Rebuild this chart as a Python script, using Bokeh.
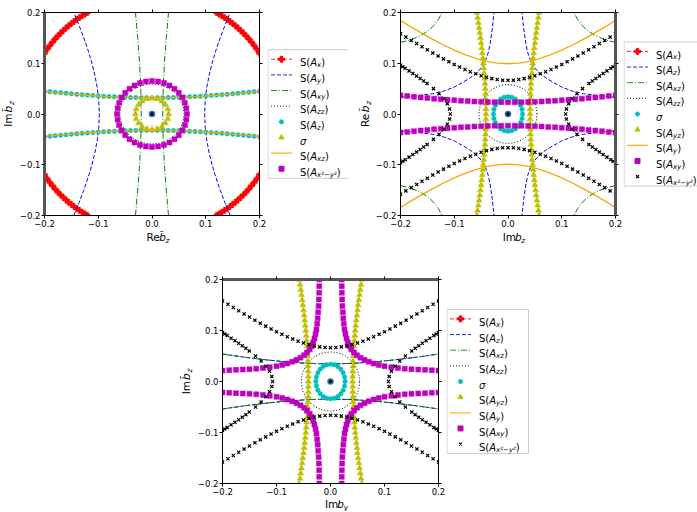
from math import pi
from bokeh.plotting import figure
from bokeh.models import Range1d, FixedTicker, LinearAxis, Spacer, CustomLabelingPolicy
from bokeh.layouts import row, column
from bokeh.embed import file_html
from bokeh.resources import INLINE
from bokeh.core.properties import value

FONT = "DejaVu Sans"
TICKS = [-0.2, -0.1, 0.0, 0.1, 0.2]
TICK_LABELS = ["−0.2", "−0.1", "0.0", "0.1", "0.2"]

# ---------------- shared grids ----------------
grid41 = [-0.2, -0.19, -0.18, -0.17, -0.16, -0.15, -0.14, -0.13, -0.12, -0.11, -0.1, -0.09, -0.08, -0.07,
          -0.06, -0.05, -0.04, -0.03, -0.02, -0.01, 0.0, 0.01, 0.02, 0.03, 0.04, 0.05, 0.06, 0.07, 0.08,
          0.09, 0.1, 0.11, 0.12, 0.13, 0.14, 0.15, 0.16, 0.17, 0.18, 0.19, 0.2]
grid33 = [-0.2, -0.1875, -0.175, -0.1625, -0.15, -0.1375, -0.125, -0.1125, -0.1, -0.0875, -0.075, -0.0625,
          -0.05, -0.0375, -0.025, -0.0125, 0.0, 0.0125, 0.025, 0.0375, 0.05, 0.0625, 0.075, 0.0875, 0.1, 0.1125,
          0.125, 0.1375, 0.15, 0.1625, 0.175, 0.1875, 0.2]
grid21 = [-0.2, -0.18, -0.16, -0.14, -0.12, -0.1, -0.08, -0.06, -0.04, -0.02, 0.0, 0.02, 0.04, 0.06, 0.08,
          0.1, 0.12, 0.14, 0.16, 0.18, 0.2]
center_x = [0.0]
center_y = [0.0]

# ---------------- panel 1 (Re b_z, Im b_z) ----------------
p1_ax_x_left = [-0.2, -0.195, -0.19, -0.185, -0.18, -0.175, -0.17, -0.165, -0.16, -0.155, -0.15, -0.145, -0.14,
                -0.135, -0.13, -0.125, -0.12]
p1_ax_x_right = [0.2, 0.195, 0.19, 0.185, 0.18, 0.175, 0.17, 0.165, 0.16, 0.155, 0.15, 0.145, 0.14, 0.135, 0.13,
                 0.125, 0.12]
p1_ax_y_top = [0.1196, 0.1276, 0.1349, 0.1417, 0.148, 0.1539, 0.1594, 0.1645, 0.1694, 0.174, 0.1783, 0.1824,
               0.1863, 0.1899, 0.1934, 0.1967, 0.1997]
p1_ax_y_bot = [-0.1196, -0.1276, -0.1349, -0.1417, -0.148, -0.1539, -0.1594, -0.1645, -0.1694, -0.174, -0.1783,
               -0.1824, -0.1863, -0.1899, -0.1934, -0.1967, -0.1997]

p1_ay_y = [-0.2, -0.175, -0.15, -0.125, -0.1, -0.075, -0.05, -0.025, 0.0, 0.025, 0.05, 0.075, 0.1, 0.125, 0.15,
           0.175, 0.2]
p1_ay_x_left = [-0.1455, -0.1358, -0.1269, -0.1188, -0.1118, -0.106, -0.1016, -0.0989, -0.098, -0.0989, -0.1016,
                -0.106, -0.1118, -0.1188, -0.1269, -0.1358, -0.1455]
p1_ay_x_right = [0.1455, 0.1358, 0.1269, 0.1188, 0.1118, 0.106, 0.1016, 0.0989, 0.098, 0.0989, 0.1016, 0.106,
                 0.1118, 0.1188, 0.1269, 0.1358, 0.1455]

p1_axy_y = [-0.2, -0.15, -0.1, -0.05, 0.0, 0.05, 0.1, 0.15, 0.2]
p1_axy_x_left = [-0.0307, -0.0265, -0.0231, -0.0208, -0.02, -0.0208, -0.0231, -0.0265, -0.0307]
p1_axy_x_right = [0.0307, 0.0265, 0.0231, 0.0208, 0.02, 0.0208, 0.0231, 0.0265, 0.0307]

p1_azz_x = [0.06, 0.0591, 0.0564, 0.052, 0.046, 0.0386, 0.03, 0.0205, 0.0104, 0.0, -0.0104, -0.0205, -0.03,
            -0.0386, -0.046, -0.052, -0.0564, -0.0591, -0.06, -0.0591, -0.0564, -0.052, -0.046, -0.0386, -0.03,
            -0.0205, -0.0104, 0.0, 0.0104, 0.0205, 0.03, 0.0386, 0.046, 0.052, 0.0564, 0.0591, 0.06]
p1_azz_y = [0.0, 0.0102, 0.0202, 0.0295, 0.0379, 0.0452, 0.0511, 0.0554, 0.0581, 0.059, 0.0581, 0.0554, 0.0511,
            0.0452, 0.0379, 0.0295, 0.0202, 0.0102, 0.0, -0.0102, -0.0202, -0.0295, -0.0379, -0.0452, -0.0511,
            -0.0554, -0.0581, -0.059, -0.0581, -0.0554, -0.0511, -0.0452, -0.0379, -0.0295, -0.0202, -0.0102, 0.0]

p1_az_y_top = [0.045, 0.0439, 0.0428, 0.0418, 0.0408, 0.0398, 0.0389, 0.038, 0.0372, 0.0364, 0.0357, 0.035,
               0.0344, 0.0339, 0.0334, 0.033, 0.0326, 0.0324, 0.0322, 0.032, 0.032, 0.032, 0.0322, 0.0324, 0.0326,
               0.033, 0.0334, 0.0339, 0.0344, 0.035, 0.0357, 0.0364, 0.0372, 0.038, 0.0389, 0.0398, 0.0408,
               0.0418, 0.0428, 0.0439, 0.045]
p1_az_y_bot = [-0.045, -0.0439, -0.0428, -0.0418, -0.0408, -0.0398, -0.0389, -0.038, -0.0372, -0.0364, -0.0357,
               -0.035, -0.0344, -0.0339, -0.0334, -0.033, -0.0326, -0.0324, -0.0322, -0.032, -0.032, -0.032,
               -0.0322, -0.0324, -0.0326, -0.033, -0.0334, -0.0339, -0.0344, -0.035, -0.0357, -0.0364, -0.0372,
               -0.038, -0.0389, -0.0398, -0.0408, -0.0418, -0.0428, -0.0439, -0.045]

p1_sig_x = [0.031, 0.0295, 0.0251, 0.0182, 0.0096, 0.0, -0.0096, -0.0182, -0.0251, -0.0295, -0.031, -0.0295,
            -0.0251, -0.0182, -0.0096, 0.0, 0.0096, 0.0182, 0.0251, 0.0295]
p1_sig_y = [0.0, 0.0096, 0.0182, 0.0251, 0.0295, 0.031, 0.0295, 0.0251, 0.0182, 0.0096, 0.0, -0.0096, -0.0182,
            -0.0251, -0.0295, -0.031, -0.0295, -0.0251, -0.0182, -0.0096]

p1_axz_y_top = [0.0443, 0.0423, 0.0403, 0.0385, 0.0369, 0.0355, 0.0343, 0.0333, 0.0326, 0.0322, 0.032, 0.0322,
                0.0326, 0.0333, 0.0343, 0.0355, 0.0369, 0.0385, 0.0403, 0.0423, 0.0443]
p1_axz_y_bot = [-0.0443, -0.0423, -0.0403, -0.0385, -0.0369, -0.0355, -0.0343, -0.0333, -0.0326, -0.0322, -0.032,
                -0.0322, -0.0326, -0.0333, -0.0343, -0.0355, -0.0369, -0.0385, -0.0403, -0.0423, -0.0443]

p1_ax2y2_x = [0.065, 0.064, 0.0611, 0.0563, 0.0498, 0.0418, 0.0325, 0.0222, 0.0113, 0.0, -0.0113, -0.0222,
              -0.0325, -0.0418, -0.0498, -0.0563, -0.0611, -0.064, -0.065, -0.064, -0.0611, -0.0563, -0.0498,
              -0.0418, -0.0325, -0.0222, -0.0113, 0.0, 0.0113, 0.0222, 0.0325, 0.0418, 0.0498, 0.0563, 0.0611,
              0.064]
p1_ax2y2_y = [0.0, 0.0113, 0.0222, 0.0325, 0.0418, 0.0498, 0.0563, 0.0611, 0.064, 0.065, 0.064, 0.0611, 0.0563,
              0.0498, 0.0418, 0.0325, 0.0222, 0.0113, 0.0, -0.0113, -0.0222, -0.0325, -0.0418, -0.0498, -0.0563,
              -0.0611, -0.064, -0.065, -0.064, -0.0611, -0.0563, -0.0498, -0.0418, -0.0325, -0.0222, -0.0113]

# ---------------- panel 2 (Im b_z, Re b_z) and panel 3 (Im b_y, Im b_z) ----------------
p2_az_x_left = [-0.2, -0.17, -0.14, -0.12, -0.1, -0.085, -0.072, -0.062, -0.054, -0.047, -0.042, -0.037, -0.033,
                -0.029, -0.026]
p2_az_x_right = [0.2, 0.17, 0.14, 0.12, 0.1, 0.085, 0.072, 0.062, 0.054, 0.047, 0.042, 0.037, 0.033, 0.029, 0.026]
p2_az_y_top = [0.033, 0.036, 0.04, 0.045, 0.053, 0.062, 0.07, 0.078, 0.086, 0.095, 0.105, 0.12, 0.14, 0.17, 0.2]
p2_az_y_bot = [-0.033, -0.036, -0.04, -0.045, -0.053, -0.062, -0.07, -0.078, -0.086, -0.095, -0.105, -0.12, -0.14,
               -0.17, -0.2]

p2_axz_x_left = [-0.2, -0.19, -0.18, -0.17, -0.16, -0.15, -0.14, -0.13, -0.1226]
p2_axz_x_right = [0.2, 0.19, 0.18, 0.17, 0.16, 0.15, 0.14, 0.13, 0.1226]
p2_axz_y_top = [0.1415, 0.1435, 0.1465, 0.151, 0.156, 0.163, 0.172, 0.1855, 0.2]
p2_axz_y_bot = [-0.1415, -0.1435, -0.1465, -0.151, -0.156, -0.163, -0.172, -0.1855, -0.2]

zz_ell_x = [0.054, 0.0532, 0.0507, 0.0468, 0.0414, 0.0347, 0.027, 0.0185, 0.0094, 0.0, -0.0094, -0.0185, -0.027,
            -0.0347, -0.0414, -0.0468, -0.0507, -0.0532, -0.054, -0.0532, -0.0507, -0.0468, -0.0414, -0.0347,
            -0.027, -0.0185, -0.0094, 0.0, 0.0094, 0.0185, 0.027, 0.0347, 0.0414, 0.0468, 0.0507, 0.0532, 0.054]
zz_ell_y = [0.0, 0.0101, 0.0198, 0.029, 0.0373, 0.0444, 0.0502, 0.0545, 0.0571, 0.058, 0.0571, 0.0545, 0.0502,
            0.0444, 0.0373, 0.029, 0.0198, 0.0101, 0.0, -0.0101, -0.0198, -0.029, -0.0373, -0.0444, -0.0502,
            -0.0545, -0.0571, -0.058, -0.0571, -0.0545, -0.0502, -0.0444, -0.0373, -0.029, -0.0198, -0.0101, 0.0]

sig_ell_x = [0.027, 0.0261, 0.0234, 0.0191, 0.0135, 0.007, 0.0, -0.007, -0.0135, -0.0191, -0.0234, -0.0261,
             -0.027, -0.0261, -0.0234, -0.0191, -0.0135, -0.007, 0.0, 0.007, 0.0135, 0.0191, 0.0234, 0.0261]
sig_ell_y = [0.0, 0.0088, 0.017, 0.024, 0.0294, 0.0328, 0.034, 0.0328, 0.0294, 0.024, 0.017, 0.0088, 0.0,
             -0.0088, -0.017, -0.024, -0.0294, -0.0328, -0.034, -0.0328, -0.0294, -0.024, -0.017, -0.0088]

ayz_x_right = [0.058, 0.0565, 0.0551, 0.0538, 0.0525, 0.0512, 0.05, 0.0489, 0.0478, 0.0468, 0.0458, 0.045,
               0.0442, 0.0434, 0.0428, 0.0423, 0.0418, 0.0415, 0.0412, 0.041, 0.041, 0.041, 0.0412, 0.0415, 0.0418,
               0.0423, 0.0428, 0.0434, 0.0442, 0.045, 0.0458, 0.0468, 0.0478, 0.0489, 0.05, 0.0512, 0.0525, 0.0538,
               0.0551, 0.0565, 0.058]
ayz_x_left = [-0.058, -0.0565, -0.0551, -0.0538, -0.0525, -0.0512, -0.05, -0.0489, -0.0478, -0.0468, -0.0458,
              -0.045, -0.0442, -0.0434, -0.0428, -0.0423, -0.0418, -0.0415, -0.0412, -0.041, -0.041, -0.041,
              -0.0412, -0.0415, -0.0418, -0.0423, -0.0428, -0.0434, -0.0442, -0.045, -0.0458, -0.0468, -0.0478,
              -0.0489, -0.05, -0.0512, -0.0525, -0.0538, -0.0551, -0.0565, -0.058]

p2_ay_y_top = [0.1841, 0.1712, 0.1588, 0.147, 0.1359, 0.1258, 0.1169, 0.1094, 0.1037, 0.1002, 0.099, 0.1002,
               0.1037, 0.1094, 0.1169, 0.1258, 0.1359, 0.147, 0.1588, 0.1712, 0.1841]
p2_ay_y_bot = [-0.1841, -0.1712, -0.1588, -0.147, -0.1359, -0.1258, -0.1169, -0.1094, -0.1037, -0.1002, -0.099,
               -0.1002, -0.1037, -0.1094, -0.1169, -0.1258, -0.1359, -0.147, -0.1588, -0.1712, -0.1841]

p2_axy_y_top = [0.0366, 0.0353, 0.0339, 0.0326, 0.0314, 0.0302, 0.0291, 0.028, 0.0271, 0.0262, 0.0254, 0.0247,
                0.0241, 0.0236, 0.0233, 0.0231, 0.023, 0.0231, 0.0233, 0.0236, 0.0241, 0.0247, 0.0254, 0.0262,
                0.0271, 0.028, 0.0291, 0.0302, 0.0314, 0.0326, 0.0339, 0.0353, 0.0366]
p2_axy_y_bot = [-0.0366, -0.0353, -0.0339, -0.0326, -0.0314, -0.0302, -0.0291, -0.028, -0.0271, -0.0262, -0.0254,
                -0.0247, -0.0241, -0.0236, -0.0233, -0.0231, -0.023, -0.0231, -0.0233, -0.0236, -0.0241, -0.0247,
                -0.0254, -0.0262, -0.0271, -0.028, -0.0291, -0.0302, -0.0314, -0.0326, -0.0339, -0.0353, -0.0366]

x2y2_u_top = [0.158, 0.1515, 0.1451, 0.1388, 0.1325, 0.1264, 0.1203, 0.1144, 0.1086, 0.1031, 0.0977, 0.0925,
              0.0877, 0.0832, 0.0791, 0.0754, 0.0723, 0.0697, 0.0679, 0.0667, 0.0663, 0.0667, 0.0679, 0.0697,
              0.0723, 0.0754, 0.0791, 0.0832, 0.0877, 0.0925, 0.0977, 0.1031, 0.1086, 0.1144, 0.1203, 0.1264,
              0.1325, 0.1388, 0.1451, 0.1515, 0.158]
x2y2_u_bot = [-0.158, -0.1515, -0.1451, -0.1388, -0.1325, -0.1264, -0.1203, -0.1144, -0.1086, -0.1031, -0.0977,
              -0.0925, -0.0877, -0.0832, -0.0791, -0.0754, -0.0723, -0.0697, -0.0679, -0.0667, -0.0663, -0.0667,
              -0.0679, -0.0697, -0.0723, -0.0754, -0.0791, -0.0832, -0.0877, -0.0925, -0.0977, -0.1031, -0.1086,
              -0.1144, -0.1203, -0.1264, -0.1325, -0.1388, -0.1451, -0.1515, -0.158]
x2y2_side_y = [-0.096, -0.093, -0.09, -0.085, -0.08, -0.075, -0.07, -0.065, -0.06, -0.05, -0.04, -0.03, -0.02,
               -0.01, 0.0, 0.01, 0.02, 0.03, 0.04, 0.05, 0.06, 0.065, 0.07, 0.075, 0.08, 0.085, 0.09, 0.093, 0.096]
x2y2_side_x_left = [-0.2, -0.1957, -0.1913, -0.1841, -0.177, -0.1701, -0.1634, -0.1568, -0.1505, -0.1387, -0.1283,
                    -0.1195, -0.1129, -0.1087, -0.1072, -0.1087, -0.1129, -0.1195, -0.1283, -0.1387, -0.1505,
                    -0.1568, -0.1634, -0.1701, -0.177, -0.1841, -0.1913, -0.1957, -0.2]
x2y2_side_x_right = [0.2, 0.1957, 0.1913, 0.1841, 0.177, 0.1701, 0.1634, 0.1568, 0.1505, 0.1387, 0.1283, 0.1195,
                     0.1129, 0.1087, 0.1072, 0.1087, 0.1129, 0.1195, 0.1283, 0.1387, 0.1505, 0.1568, 0.1634,
                     0.1701, 0.177, 0.1841, 0.1913, 0.1957, 0.2]

p3_azxz_y_top = [0.0539, 0.0508, 0.0478, 0.0451, 0.0426, 0.0403, 0.0384, 0.0368, 0.0356, 0.0349, 0.0346, 0.0349,
                 0.0356, 0.0368, 0.0384, 0.0403, 0.0426, 0.0451, 0.0478, 0.0508, 0.0539]
p3_azxz_y_bot = [-0.0539, -0.0508, -0.0478, -0.0451, -0.0426, -0.0403, -0.0384, -0.0368, -0.0356, -0.0349,
                 -0.0346, -0.0349, -0.0356, -0.0368, -0.0384, -0.0403, -0.0426, -0.0451, -0.0478, -0.0508, -0.0539]

p3_axy_x_left = [-0.2, -0.1875, -0.175, -0.1625, -0.15, -0.1375, -0.125, -0.1125, -0.1, -0.0895, -0.08, -0.071,
                 -0.063, -0.0555, -0.049, -0.0435, -0.0385, -0.0345, -0.032, -0.0297, -0.0277, -0.026, -0.0247,
                 -0.0237, -0.0228, -0.022, -0.0215, -0.021, -0.0208, -0.0207]
p3_axy_x_right = [0.2, 0.1875, 0.175, 0.1625, 0.15, 0.1375, 0.125, 0.1125, 0.1, 0.0895, 0.08, 0.071, 0.063,
                  0.0555, 0.049, 0.0435, 0.0385, 0.0345, 0.032, 0.0297, 0.0277, 0.026, 0.0247, 0.0237, 0.0228,
                  0.022, 0.0215, 0.021, 0.0208, 0.0207]
p3_axy_y_top = [0.0215, 0.0221, 0.0228, 0.0234, 0.024, 0.0252, 0.0265, 0.0281, 0.03, 0.0325, 0.0353, 0.0387,
                0.0425, 0.0468, 0.0515, 0.0568, 0.063, 0.0695, 0.077, 0.0845, 0.093, 0.102, 0.113, 0.124, 0.136,
                0.148, 0.161, 0.174, 0.187, 0.2]
p3_axy_y_bot = [-0.0215, -0.0221, -0.0228, -0.0234, -0.024, -0.0252, -0.0265, -0.0281, -0.03, -0.0325, -0.0353,
                -0.0387, -0.0425, -0.0468, -0.0515, -0.0568, -0.063, -0.0695, -0.077, -0.0845, -0.093, -0.102,
                -0.113, -0.124, -0.136, -0.148, -0.161, -0.174, -0.187, -0.2]

# ---------------- texts ----------------
legend1_labels = ["S(A_x)", "S(A_y)", "S(A_xy)", "S(A_zz)", "S(A_z)", "σ", "S(A_xz)", "S(A_x²−y²)"]
legend1_keys = ["red", "blue", "green", "dotted", "cyan", "yellow", "orange", "magenta"]
legend2_labels = ["S(A_x)", "S(A_z)", "S(A_xz)", "S(A_zz)", "σ", "S(A_yz)", "S(A_y)", "S(A_xy)", "S(A_x²−y²)"]
legend2_keys = ["red", "blue", "green", "dotted", "cyan", "yellow", "orange", "magenta", "blackx"]
legend3_labels = legend2_labels
legend3_keys = legend2_keys

# axis titles: (prefix, variable, subscript)
xlabel1 = ("Re", "b\u0303", "z")
ylabel1 = ("Im", "b\u0303", "z")
xlabel2 = ("Im", "b", "z")
ylabel2 = ("Re", "b\u0303", "z")
xlabel3 = ("Im", "b", "y")
ylabel3 = ("Im", "b\u0303", "z")

STY = {
    "red": dict(line=("#ff0000", "4 2", 1.0), marker=("plus", "#ff0000", 6, 6)),
    "blue": dict(line=("#0000ff", "4 2", 1.0)),
    "green": dict(line=("#008000", "6 2 1 2", 1.0)),
    "dotted": dict(line=("#000000", "1 2", 1.0)),
    "cyan": dict(marker=("circle", "#00bfbf", 4.5, 4)),
    "yellow": dict(marker=("triangle", "#bfbf00", 6, 5)),
    "orange": dict(line=("#ffa500", "solid", 1.3)),
    "magenta": dict(marker=("square", "#bf00bf", 5, 5)),
    "blackx": dict(marker=("x", "#000000", 4.5, 4)),
}

W_EM = {"S": 0.635, "(": 0.39, ")": 0.39, "A": 0.684, "x": 0.592, "y": 0.592, "z": 0.525, "²": 0.402,
        "−": 0.838, " ": 0.318, "σ": 0.634, "R": 0.695, "e": 0.615, "I": 0.295, "m": 0.974, "b": 0.635,
        "\u0303": 0.0}


def tw(s, size):
    return sum(W_EM.get(ch, 0.6) for ch in s) * size


def label_segments(lbl, size=10.0, sub=7.0):
    if lbl.startswith("S(A_"):
        return [("S(", size, "normal", 0), ("A", size, "italic", 0), (lbl[4:-1], sub, "italic", 1),
                (")", size, "normal", 0)]
    return [(lbl, size, "italic", 0)]


def draw(p, xs, ys, key):
    st = STY[key]
    if "line" in st:
        c, d, w = st["line"]
        p.line(xs, ys, line_color=c, line_dash=d, line_width=w)
    if "marker" in st:
        m, c, s, _ = st["marker"]
        if m == "x":
            p.scatter(xs, ys, marker="x", size=s, line_color=c, line_width=1.2)
        else:
            p.scatter(xs, ys, marker=m, size=s, fill_color=c, line_color=c, line_width=0.5)


HIDE = CustomLabelingPolicy(code="for (const i of indices) indices.unset(i)")


def style_axis(ax, labels=True, standoff=2):
    ax.ticker = FixedTicker(ticks=TICKS, minor_ticks=[])
    ax.major_tick_out = 3
    ax.major_tick_in = 0
    ax.minor_tick_out = 0
    ax.minor_tick_in = 0
    ax.axis_line_color = "black"
    ax.major_tick_line_color = "black"
    ax.major_label_text_font = FONT
    ax.major_label_text_color = "black"
    if labels:
        ax.major_label_overrides = dict(zip(TICKS, TICK_LABELS))
        ax.major_label_text_font_size = "8.5px"
        ax.major_label_standoff = standoff
    else:
        ax.major_label_policy = HIDE
        ax.major_label_text_font_size = "1px"
        ax.major_label_standoff = 0


def make_plot(fl, fw, fh, bt, bb, br, thick, xstand, ystand):
    p = figure(frame_width=fw, frame_height=fh, x_range=Range1d(-0.2, 0.2), y_range=Range1d(-0.2, 0.2),
               min_border_left=fl, min_border_right=br, min_border_top=bt, min_border_bottom=bb,
               output_backend="svg", toolbar_location=None, title=None)
    p.grid.visible = False
    p.outline_line_color = "black"
    style_axis(p.xaxis[0], True, xstand)
    style_axis(p.yaxis[0], True, ystand)
    top = LinearAxis()
    right = LinearAxis()
    style_axis(top, False)
    style_axis(right, False)
    p.add_layout(top, "above")
    p.add_layout(right, "right")
    a = {"left": p.yaxis[0], "right": right, "above": top}[thick]
    a.axis_line_width = 3
    a.axis_line_color = "#555555"
    return p


def blank(w, h, flip=False):
    s = figure(width=w, height=h, x_range=Range1d(0, w), y_range=Range1d(h, 0) if flip else Range1d(0, h),
               x_axis_location=None, y_axis_location=None, min_border=0, output_backend="svg",
               toolbar_location=None, outline_line_color=None, title=None)
    s.grid.visible = False
    return s


def title_strip(w, h, parts, orient, center, base, size=10.5, sub=7.4):
    s = blank(w, h)
    pre, var, subtxt = parts
    segs = [(pre, size, "normal", 0, 1.0), (var, size, "italic", 0, 0.8), (subtxt, sub, "italic", 1, 0.0)]
    total = sum(tw(t, sz) + g for t, sz, _, _, g in segs)
    pos = center - total / 2
    for t, sz, style, is_sub, g in segs:
        if orient == "x":
            x, y, ang = pos, base - (3.3 if is_sub else 0), 0.0
        else:
            x, y, ang = base + (3.3 if is_sub else 0), pos, pi / 2
        s.text(x=[x], y=[y], text=[t], angle=ang, text_font=value(FONT), text_font_size=f"{sz}px",
               text_font_style=style, text_baseline="middle", text_align="left", text_color="black")
        pos += tw(t, sz) + g
    return s


def legend_fig(labels, keys, fig_w, fig_h, box_x, box_w, center_y):
    ROW_H, PAD = 15.65, 9.5
    n = len(labels)
    box_h = (n - 1) * ROW_H + 2 * PAD
    top = center_y - box_h / 2
    L = blank(fig_w, fig_h, flip=True)
    L.quad(left=[box_x], right=[box_x + box_w], top=[top], bottom=[top + box_h], fill_color="white",
           line_color="#cccccc", line_width=1)
    groups = {}
    for i, (lbl, key) in enumerate(zip(labels, keys)):
        yc = top + PAD + i * ROW_H
        st = STY[key]
        x0, x1 = box_x + 3, box_x + 24
        if "line" in st:
            c, d, w = st["line"]
            L.line([x0, x1], [yc, yc], line_color=c, line_dash=d, line_width=w, line_alpha=0.85)
        if "marker" in st:
            m, c, _, s = st["marker"]
            if m == "x":
                L.scatter([(x0 + x1) / 2], [yc], marker="x", size=s, line_color=c, line_width=1.2)
            else:
                L.scatter([(x0 + x1) / 2], [yc], marker=m, size=s, fill_color=c, line_color=c)
        x = box_x + 32
        yb = yc + 3.6
        for t, s, style, sub in label_segments(lbl):
            g = groups.setdefault((s, style), ([], [], []))
            g[0].append(x)
            g[1].append(yb + (2.4 if sub else 0))
            g[2].append(t)
            x += tw(t, s)
    for (s, style), (xs, ys, ts) in groups.items():
        L.text(x=xs, y=ys, text=ts, text_font=value(FONT), text_font_size=f"{s}px", text_font_style=style,
               text_baseline="alphabetic", text_align="left", text_color="black")
    return L


def center_dot(p):
    p.scatter(center_x, center_y, marker="circle", size=5, fill_color="black", line_color="#1f77b4",
              line_width=1.5)


# ---------------- panel 1 ----------------
p1 = make_plot(25, 215, 203, 12, 14, 7, "left", 1, 1)
for xs, ys in [(p1_ax_x_left, p1_ax_y_top), (p1_ax_x_right, p1_ax_y_top), (p1_ax_x_left, p1_ax_y_bot),
               (p1_ax_x_right, p1_ax_y_bot)]:
    draw(p1, xs, ys, "red")
draw(p1, p1_ay_x_left, p1_ay_y, "blue")
draw(p1, p1_ay_x_right, p1_ay_y, "blue")
draw(p1, p1_axy_x_left, p1_axy_y, "green")
draw(p1, p1_axy_x_right, p1_axy_y, "green")
draw(p1, p1_azz_x, p1_azz_y, "dotted")
draw(p1, grid41, p1_az_y_top, "cyan")
draw(p1, grid41, p1_az_y_bot, "cyan")
draw(p1, p1_sig_x, p1_sig_y, "yellow")
draw(p1, grid21, p1_axz_y_top, "orange")
draw(p1, grid21, p1_axz_y_bot, "orange")
draw(p1, p1_ax2y2_x, p1_ax2y2_y, "magenta")
center_dot(p1)

# ---------------- panel 2 ----------------
p2 = make_plot(25, 215, 203, 12, 14, 7, "right", 1, 1)
for xs, ys in [(p2_az_x_left, p2_az_y_top), (p2_az_x_right, p2_az_y_top), (p2_az_x_left, p2_az_y_bot),
               (p2_az_x_right, p2_az_y_bot)]:
    draw(p2, xs, ys, "blue")
for xs, ys in [(p2_axz_x_left, p2_axz_y_top), (p2_axz_x_right, p2_axz_y_top), (p2_axz_x_left, p2_axz_y_bot),
               (p2_axz_x_right, p2_axz_y_bot)]:
    draw(p2, xs, ys, "green")
draw(p2, zz_ell_x, zz_ell_y, "dotted")
draw(p2, sig_ell_x, sig_ell_y, "cyan")
draw(p2, ayz_x_left, grid41, "yellow")
draw(p2, ayz_x_right, grid41, "yellow")
draw(p2, grid21, p2_ay_y_top, "orange")
draw(p2, grid21, p2_ay_y_bot, "orange")
draw(p2, grid33, p2_axy_y_top, "magenta")
draw(p2, grid33, p2_axy_y_bot, "magenta")
draw(p2, grid41, x2y2_u_top, "blackx")
draw(p2, grid41, x2y2_u_bot, "blackx")
draw(p2, x2y2_side_x_left, x2y2_side_y, "blackx")
draw(p2, x2y2_side_x_right, x2y2_side_y, "blackx")
center_dot(p2)

# ---------------- panel 3 ----------------
p3 = make_plot(25, 216, 204, 33, 14, 7, "above", 1, 1)
draw(p3, grid21, p3_azxz_y_top, "blue")
draw(p3, grid21, p3_azxz_y_bot, "blue")
draw(p3, grid21, p3_azxz_y_top, "green")
draw(p3, grid21, p3_azxz_y_bot, "green")
draw(p3, zz_ell_x, zz_ell_y, "dotted")
draw(p3, sig_ell_x, sig_ell_y, "cyan")
draw(p3, ayz_x_left, grid41, "yellow")
draw(p3, ayz_x_right, grid41, "yellow")
for xs, ys in [(p3_axy_x_left, p3_axy_y_top), (p3_axy_x_right, p3_axy_y_top), (p3_axy_x_left, p3_axy_y_bot),
               (p3_axy_x_right, p3_axy_y_bot)]:
    draw(p3, xs, ys, "magenta")
draw(p3, grid41, x2y2_u_top, "blackx")
draw(p3, grid41, x2y2_u_bot, "blackx")
draw(p3, x2y2_side_x_left, x2y2_side_y, "blackx")
draw(p3, x2y2_side_x_right, x2y2_side_y, "blackx")
center_dot(p3)

# ---------------- titles, legends & layout ----------------
ROW1_H = 12 + 203 + 14 + 17
ROW2_H = 33 + 204 + 14 + 14
X1 = title_strip(247, 17, xlabel1, "x", 25 + 107.5, 9.3)
X2 = title_strip(247, 17, xlabel2, "x", 25 + 107.5, 9.3)
X3 = title_strip(248, 14, xlabel3, "x", 25 + 108, 7.6)
Y1 = title_strip(16, ROW1_H, ylabel1, "y", ROW1_H - 113.5, 7.9)
Y2 = title_strip(24, ROW1_H, ylabel2, "y", ROW1_H - 113.5, 16.4)
Y3 = title_strip(21, ROW2_H, ylabel3, "y", ROW2_H - 135, 12.9)

L1 = legend_fig(legend1_labels, legend1_keys, 81, ROW1_H, 0.5, 80.5, 113.5)
L2 = legend_fig(legend2_labels, legend2_keys, 82, ROW1_H, 0.5, 81.5, 113.5)
L3 = legend_fig(legend3_labels, legend3_keys, 90, ROW2_H, 0.5, 81.5, 135.0)

layout = column(row(Y1, column(p1, X1), L1, Y2, column(p2, X2), L2),
                row(Spacer(width=173, height=ROW2_H), Y3, column(p3, X3), L3))
open("out.html", "w").write(file_html(layout, INLINE))
